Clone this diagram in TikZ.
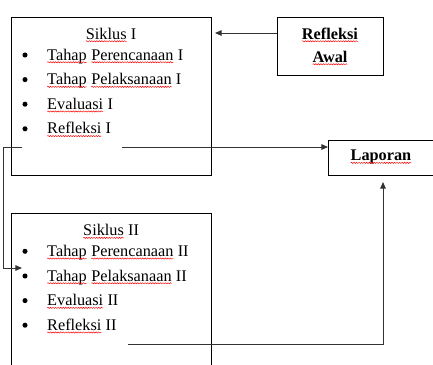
\documentclass[tikz,border=0pt]{standalone}
\usepackage{fontspec}
\setmainfont{Liberation Serif}
\usetikzlibrary{arrows.meta,fit,decorations.pathmorphing}
\newcommand\sq[1]{\tikz[baseline=(w.base)]{\node[inner sep=0pt,outer sep=0pt,draw=none,fill=none,anchor=base](w){#1};\draw[red,line width=0.35pt,decorate,decoration={snake,amplitude=0.45pt,segment length=1.9pt}]([yshift=-1.7pt]w.base west)--([yshift=-1.7pt]w.base east);}}
\tikzset{
  box/.style={draw=black,line width=0.75pt,inner sep=0pt,outer sep=0pt},
  txt/.style={inner sep=0pt,outer sep=0pt,anchor=base west,font=\fontsize{12.2pt}{14pt}\selectfont},
  ctr/.style={inner sep=0pt,outer sep=0pt,anchor=base,font=\fontsize{12.2pt}{14pt}\selectfont},
  bul/.style={circle,fill=black,draw=none,inner sep=0pt,outer sep=0pt,minimum size=3.8pt},
  conn/.style={draw=black!80,line width=0.7pt},
  arr/.style={conn,-{Triangle[length=5pt,width=4.2pt]}}
}
\begin{document}
\begin{tikzpicture}[x=0.75pt,y=-0.75pt]
\clip (0,0) rectangle (433,365);
\useasboundingbox (0,0) rectangle (433,365);
% boxes
\node[box,fit={(11,17)(211,175)}] (s1) {};
\node[box,fit={(11,213)(211,390)}] (s2) {};
\node[box,fit={(277,17)(383,75)}] (ra) {};
\node[box,fit={(328,140)(434,175)}] (lap) {};
% Siklus I text
\node[ctr] (s1t) at (111,39) {\sq{Siklus} I};
\node[bul] (s1b1) at (25,55) {};
\node[bul] (s1b2) at (25,79.6) {};
\node[bul] (s1b3) at (25,104.2) {};
\node[bul] (s1b4) at (25,128.8) {};
\node[txt] (s1i1) at (47,60) {\sq{Tahap} \sq{Perencanaan} I};
\node[txt] (s1i2) at (47,84.6) {\sq{Tahap} \sq{Pelaksanaan} I};
\node[txt] (s1i3) at (47,109.2) {\sq{Evaluasi} I};
\node[txt] (s1i4) at (47,133.8) {\sq{Refleksi} I};
% Siklus II text
\node[ctr] (s2t) at (111,235.6) {\sq{Siklus} II};
\node[bul] (s2b1) at (25,251.3) {};
\node[bul] (s2b2) at (25,276) {};
\node[bul] (s2b3) at (25,300.6) {};
\node[bul] (s2b4) at (25,325.2) {};
\node[txt] (s2i1) at (47,256.3) {\sq{Tahap} \sq{Perencanaan} II};
\node[txt] (s2i2) at (47,281) {\sq{Tahap} \sq{Pelaksanaan} II};
\node[txt] (s2i3) at (47,305.6) {\sq{Evaluasi} II};
\node[txt] (s2i4) at (47,330.2) {\sq{Refleksi} II};
% Refleksi Awal, Laporan
\node[ctr,font=\fontsize{12.2pt}{14pt}\selectfont\bfseries] (rat1) at (330,39) {\sq{Refleksi}};
\node[ctr,font=\fontsize{12.2pt}{14pt}\selectfont\bfseries] (rat2) at (330,62) {\sq{Awal}};
\node[ctr,font=\fontsize{12.2pt}{14pt}\selectfont\bfseries] (lapt) at (381,160.6) {\sq{Laporan}};
% connectors
\coordinate (raend) at (215,33);
\draw[arr] (ra.west |- raend) -- (raend);
\coordinate (a1) at (122,147);
\draw[arr] (a1) -- (lap.west |- a1);
\coordinate (b1) at (22,147);
\coordinate (b2) at (3,147);
\coordinate (b3) at (22,268);
\draw[arr] (b1) -- (b2) |- (b3);
\coordinate (c1) at (128,344);
\coordinate (c2) at (383,182);
\draw[arr] (c1) -| (c2);
\end{tikzpicture}
\end{document}
